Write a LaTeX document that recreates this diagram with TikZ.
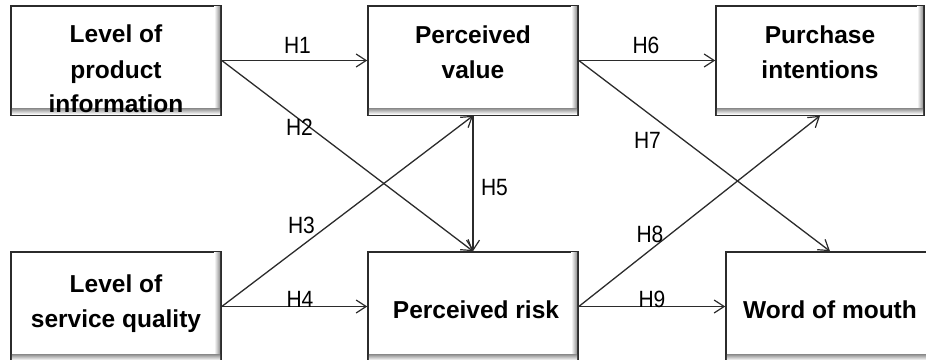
\documentclass[tikz,border=0pt]{standalone}
\usepackage{fontspec}
\usepackage{graphicx}
\setmainfont{Liberation Sans}
\usetikzlibrary{arrows.meta}
\definecolor{edge}{HTML}{2B2B2B}
\begin{document}
\begin{tikzpicture}[x=1pt,y=-1pt,
  box/.style={draw=edge, line width=1.6pt, fill=white, inner sep=0pt, minimum height=109pt},
  bevel/.style={left color=white, right color=black!45},
  bevelb/.style={top color=black!45, bottom color=white},
  boxtxt/.style={anchor=base, inner sep=0pt, font=\bfseries\fontsize{24.5}{28}\selectfont},
  hlbl/.style={anchor=base, inner sep=0pt, font=\fontsize{21}{24}\selectfont},
  arr/.style={draw=edge, line width=1.3pt, -{Straight Barb[length=10pt, width=13pt, line width=1.2pt]}}
]
\useasboundingbox (0,0) rectangle (926,359);

% boxes
\node[box, minimum width=210pt] (A) at (116,60.5) {};
\node[box, minimum width=210pt] (B) at (473,60.5) {};
\node[box, minimum width=208pt] (C) at (820,60.5) {};
\node[box, minimum width=210pt] (D) at (116,306.5) {};
\node[box, minimum width=210pt] (E) at (473,306.5) {};
\node[box, minimum width=208pt] (F) at (830,306.5) {};

% bevel shading inside right and bottom edges
\foreach \n in {A,B,C,D,E,F}{
  \shade[bevel] ([xshift=-7.6pt,yshift=-1.6pt]\n.north east) rectangle ([xshift=-1.6pt,yshift=1.6pt]\n.south east);
  \shade[bevelb] ([xshift=1.6pt,yshift=1.6pt]\n.south west) rectangle ([xshift=-1.6pt,yshift=7.6pt]\n.south east);
}

% box texts
\node[boxtxt] (tA1) at (116,42) {Level of};
\node[boxtxt] (tA2) at (116,78) {product};
\node[boxtxt] (tA3) at (116,112) {information};
\node[boxtxt] (tB1) at (473,43) {Perceived};
\node[boxtxt] (tB2) at (473,78) {value};
\node[boxtxt] (tC1) at (820,43) {Purchase};
\node[boxtxt] (tC2) at (820,78) {intentions};
\node[boxtxt] (tD1) at (116,292) {Level of};
\node[boxtxt] (tD2) at (116,327) {service quality};
\node[boxtxt] (tE1) at (476,318) {Perceived risk};
\node[boxtxt] (tF1) at (830,318) {Word of mouth};

% connectors
\draw[arr] (A.east) -- (B.west);
\draw[arr] (A.east) -- (E.north);
\draw[arr] (D.east) -- (B.south);
\draw[arr] (D.east) -- (E.west);
\draw[arr] (B.south) -- (E.north);
\draw[arr] (B.east) -- (C.west);
\draw[arr] (B.east) -- (F.north);
\draw[arr] (E.east) -- (C.south);
\draw[arr] (E.east) -- (F.west);

% hypothesis labels
\node[hlbl] (h1) at (297.5,53) {\scalebox{1}[1.12]{H1}};
\node[hlbl] (h2) at (299.5,135) {\scalebox{1}[1.12]{H2}};
\node[hlbl] (h3) at (301.5,233) {\scalebox{1}[1.12]{H3}};
\node[hlbl] (h4) at (300,307) {\scalebox{1}[1.12]{H4}};
\node[hlbl] (h5) at (494.5,195) {\scalebox{1}[1.12]{H5}};
\node[hlbl] (h6) at (646,53) {\scalebox{1}[1.12]{H6}};
\node[hlbl] (h7) at (647.5,148) {\scalebox{1}[1.12]{H7}};
\node[hlbl] (h8) at (650,242) {\scalebox{1}[1.12]{H8}};
\node[hlbl] (h9) at (652,307) {\scalebox{1}[1.12]{H9}};
\end{tikzpicture}
\end{document}
